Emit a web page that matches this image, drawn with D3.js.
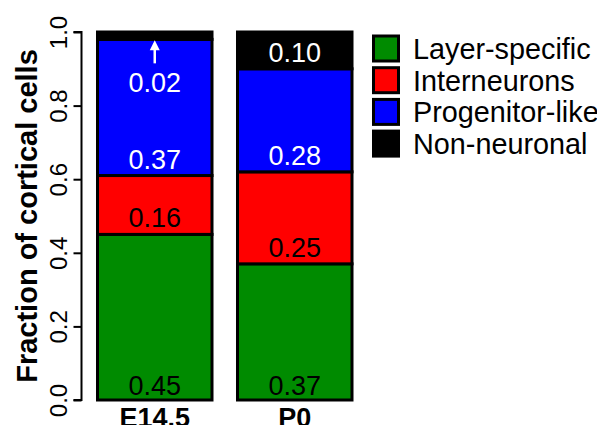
<!DOCTYPE html>
<html>
<head>
<meta charset="utf-8">
<script src="https://cdn.jsdelivr.net/npm/d3@7"></script>
<style>
  html, body { margin: 0; padding: 0; background: #fff; }
  svg { display: block; font-family: "Liberation Sans", Arial, sans-serif; }
</style>
</head>
<body>
<script>
// Cell-type composition of the cortex at two developmental stages
const stages = ["E14.5", "P0"];
const cellTypes = ["Layer-specific", "Interneurons", "Progenitor-like", "Non-neuronal"];
const typeColors = ["#008B00", "#FF0000", "#0000FF", "#000000"];
const labelColors = ["#000000", "#000000", "#FFFFFF", "#FFFFFF"];
const layerSpecific = [0.45, 0.37];
const interneurons = [0.16, 0.25];
const progenitorLike = [0.37, 0.28];
const nonNeuronal = [0.02, 0.10];
const yTicks = [0, 0.2, 0.4, 0.6, 0.8, 1.0];

const W = 597, H = 425;
const svg = d3.select("body").append("svg").attr("width", W).attr("height", H);

const rows = stages.map((s, i) => ({
  stage: s,
  "Layer-specific": layerSpecific[i],
  "Interneurons": interneurons[i],
  "Progenitor-like": progenitorLike[i],
  "Non-neuronal": nonNeuronal[i]
}));
const series = d3.stack().keys(cellTypes)(rows);

const x = d3.scaleBand().domain(stages).range([96, 353.5]).paddingInner(0.1607).paddingOuter(0);
const y = d3.scaleLinear().domain([0, 1]).range([400, 32]);
const sw = 3;

// stacked segments
const g = svg.append("g");
series.forEach((s, k) => {
  g.selectAll(null).data(s).enter().append("rect")
    .attr("x", d => x(d.data.stage) + sw / 2)
    .attr("width", x.bandwidth() - sw)
    .attr("y", d => y(d[1]))
    .attr("height", d => y(d[0]) - y(d[1]))
    .attr("fill", typeColors[k])
    .attr("stroke", "#000")
    .attr("stroke-width", sw);
});

// value labels near the bottom of each segment
series.forEach((s, k) => {
  s.forEach((d, i) => {
    const cx = x(d.data.stage) + x.bandwidth() / 2;
    const v = d[1] - d[0];
    const txt = v.toFixed(2);
    if (v < 0.05) {
      // segment too thin: label inside the segment below, with an arrow
      g.append("text").attr("x", cx).attr("y", y(d[0]) + 53)
        .attr("text-anchor", "middle").attr("font-size", 27)
        .attr("fill", "#fff").text(txt);
      g.append("line").attr("x1", cx).attr("x2", cx)
        .attr("y1", y(d[0]) + 24).attr("y2", y(d[0]) + 4)
        .attr("stroke", "#fff").attr("stroke-width", 2.5);
      g.append("path")
        .attr("d", `M${cx - 5},${y(d[0]) + 11} L${cx},${y(d[0]) + 1} L${cx + 5},${y(d[0]) + 11} Z`)
        .attr("fill", "#fff");
    } else {
      g.append("text").attr("x", cx).attr("y", y(d[0]) - (d[0] === 0 ? 5 : 7))
        .attr("text-anchor", "middle").attr("font-size", 27)
        .attr("fill", labelColors[k]).text(txt);
    }
  });
});

// y axis
const yAxis = d3.axisLeft(y).tickValues(yTicks).tickSize(8).tickFormat(d3.format(".1f"));
const ax = svg.append("g").attr("transform", "translate(81.5,0)").call(yAxis);
ax.select(".domain").attr("d", `M-8,${y(1)}H0V${y(0)}H-8`).attr("stroke-width", 2);
ax.selectAll(".tick line").attr("stroke-width", 2);
ax.selectAll(".tick text")
  .attr("font-size", 24).attr("fill", "#000")
  .attr("text-anchor", "middle")
  .attr("x", null).attr("dy", null)
  .attr("transform", "translate(-15,0) rotate(-90)");

svg.append("text")
  .attr("transform", `translate(37,${(y(0) + y(1)) / 2}) rotate(-90)`)
  .attr("text-anchor", "middle").attr("font-size", 29).attr("font-weight", "bold")
  .text("Fraction of cortical cells");

// x category labels
svg.selectAll(".cat").data(stages).enter().append("text")
  .attr("x", d => x(d) + x.bandwidth() / 2)
  .attr("y", 427)
  .attr("text-anchor", "middle").attr("font-size", 27).attr("font-weight", "bold")
  .text(d => d);

// legend
const lg = svg.append("g");
cellTypes.forEach((t, i) => {
  const cy = 48.5 + i * 31.7;
  lg.append("rect").attr("x", 373.5).attr("y", cy - 12.5).attr("width", 25).attr("height", 25)
    .attr("fill", typeColors[i]).attr("stroke", "#000").attr("stroke-width", sw);
  lg.append("text").attr("x", 413).attr("y", cy + 10.5)
    .attr("font-size", 28.8).attr("fill", "#000").text(t);
});
</script>
</body>
</html>
